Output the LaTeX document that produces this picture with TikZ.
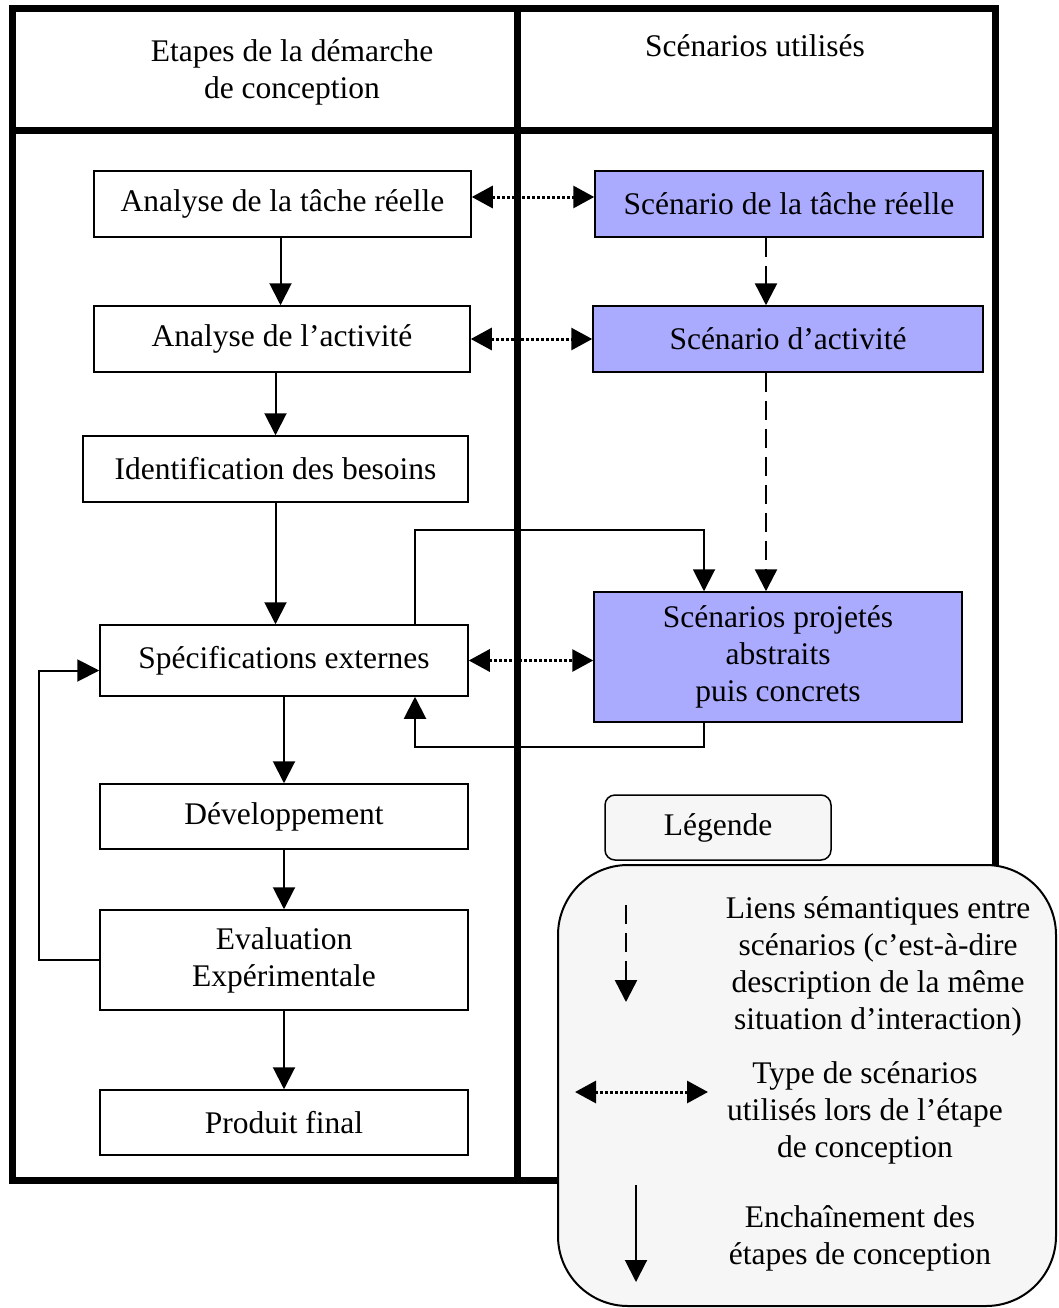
\documentclass[tikz,border=0pt]{standalone}
\usepackage{fontspec}
\setmainfont{Liberation Serif}
\usetikzlibrary{arrows.meta}
\definecolor{scenbleu}{RGB}{170,170,255}
\definecolor{legfond}{RGB}{246,246,246}

\begin{document}
\begin{tikzpicture}[x=1pt,y=-1pt,
  texte/.style={font=\fontsize{31.5}{37}\selectfont, align=center, inner sep=0pt},
  etape/.style={texte, draw, line width=1.5pt, fill=white},
  scen/.style={etape, fill=scenbleu},
  enchaine/.style={line width=2pt, -{Triangle[length=22pt,width=22pt]}},
  liensem/.style={line width=2.5pt, dash pattern=on 19pt off 9pt, -{Triangle[length=22pt,width=22pt]}},
  typescen/.style={line width=3pt, dash pattern=on 3pt off 2pt, {Triangle[length=21pt,width=22pt]}-{Triangle[length=21pt,width=22pt]}}]
\useasboundingbox (0,0) rectangle (1058,1308);

% cadre du tableau
\draw[line width=7pt] (12,9) rectangle (995,1180);
\draw[line width=7pt] (12,131) -- (995,131);
\draw[line width=7pt] (517,9) -- (517,1180);
\node[texte] (titreg) at (292,72) {Etapes de la démarche\\de conception};
\node[texte] (titred) at (755,46) {Scénarios utilisés};

% etapes
\node[etape, minimum width=377, minimum height=66] (tache) at (282.5,204) {Analyse de la tâche réelle};
\node[etape, minimum width=376, minimum height=66] (activite) at (282,339) {Analyse de l’activité};
\node[etape, minimum width=385, minimum height=66] (besoins) at (275.5,469) {Identification des besoins};
\node[etape, minimum width=368, minimum height=71] (specs) at (284,660.5) {Spécifications externes};
\node[etape, minimum width=368, minimum height=65] (dev) at (284,816.5) {Développement};
\node[etape, minimum width=368, minimum height=100] (eval) at (284,960) {Evaluation\\Expérimentale};
\node[etape, minimum width=368, minimum height=65] (produit) at (284,1122.5) {Produit final};

% scenarios
\node[scen, minimum width=388, minimum height=66] (stache) at (789,204) {Scénario de la tâche réelle};
\node[scen, minimum width=390, minimum height=66] (sactivite) at (788,339) {Scénario d’activité};
\node[scen, minimum width=368, minimum height=130] (sprojetes) at (778,657) {Scénarios projetés\\abstraits\\puis concrets};

% enchainement
\draw[enchaine] ([xshift=-2pt]tache.south) -- ([xshift=-2pt]tache.south |- activite.north);
\draw[enchaine] (besoins.north |- activite.south) -- (besoins.north);
\draw[enchaine] (besoins.south) -- (besoins.south |- specs.north);
\draw[enchaine] (specs.south) -- (dev.north);
\draw[enchaine] (dev.south) -- (eval.north);
\draw[enchaine] (eval.south) -- (produit.north);
\draw[enchaine] (eval.west) -- ++(-60,0) |- ([yshift=-10pt]specs.west);
\draw[enchaine] ([xshift=131pt]specs.north) -- ++(0,-94) -| ([xshift=-74pt]sprojetes.north);
\draw[enchaine] ([xshift=-74pt]sprojetes.south) -- ++(0,24) -| ([xshift=131pt]specs.south);

% liens semantiques
\draw[liensem] ([xshift=-23pt]stache.south) -- ([xshift=-23pt]stache.south |- sactivite.north);
\draw[liensem] ([xshift=-22pt]sactivite.south) -- ([xshift=-22pt]sactivite.south |- sprojetes.north);

% types de scenarios
\draw[typescen] ([yshift=7pt]tache.east) -- ([yshift=7pt]stache.west);
\draw[typescen] (activite.east) -- (sactivite.west);
\draw[typescen] (specs.east) -- (specs.east -| sprojetes.west);

% legende
\node[texte, draw, line width=1.5pt, fill=legfond, rounded corners=10pt, minimum width=226, minimum height=65] (legende) at (718,827.5) {Légende};
\draw[line width=2pt, fill=legfond, rounded corners=70pt] (558,865) rectangle (1056,1306);
\coordinate (l1a) at (626,905);
\coordinate (l1b) at (626,1002);
\coordinate (l2a) at (575,1092);
\coordinate (l2b) at (708,1092);
\coordinate (l3a) at (636,1185);
\coordinate (l3b) at (636,1282);
\draw[liensem] (l1a) -- (l1b);
\draw[typescen] (l2a) -- (l2b);
\draw[enchaine] (l3a) -- (l3b);
\node[texte] (leg1) at (878,966) {Liens sémantiques entre\\scénarios (c’est-à-dire\\description de la même\\situation d’interaction)};
\node[texte] (leg2) at (865,1113) {Type de scénarios\\utilisés lors de l’étape\\de conception};
\node[texte] (leg3) at (860,1238) {Enchaînement des\\étapes de conception};
\end{tikzpicture}
\end{document}
